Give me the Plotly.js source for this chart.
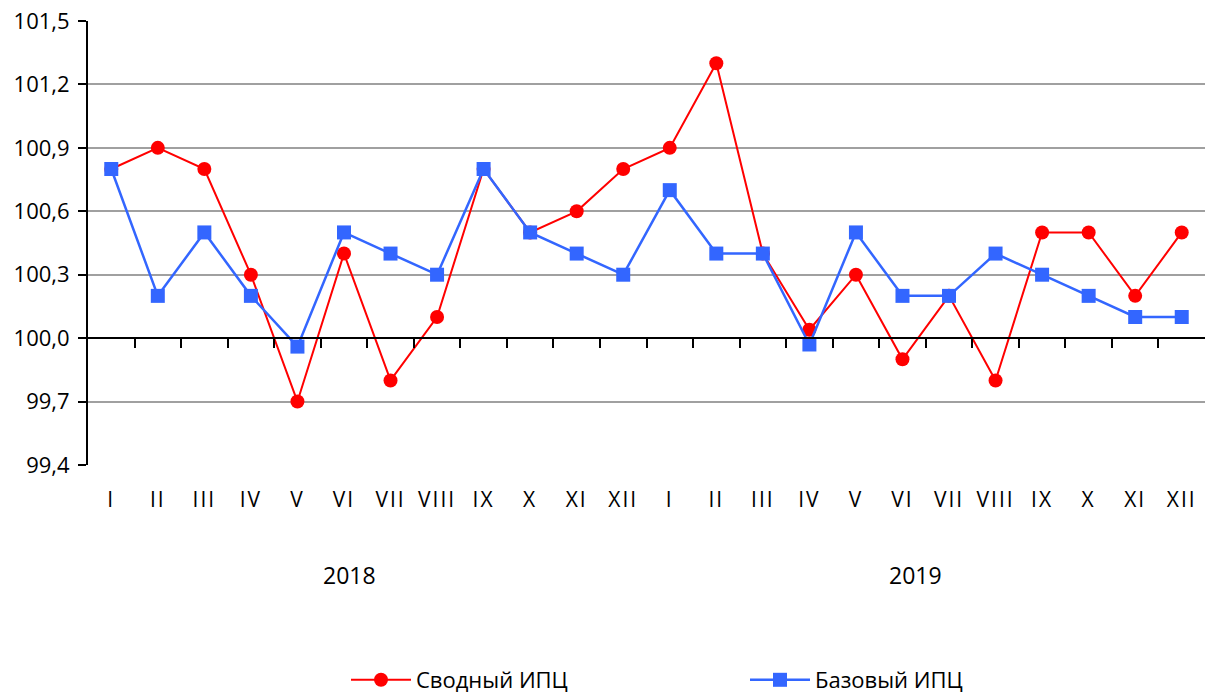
<!DOCTYPE html>
<html>
<head>
<meta charset="utf-8">
<script src="https://cdn.plot.ly/plotly-3.0.1.min.js"></script>
<style>html,body{margin:0;padding:0;background:#fff;}#chart{width:1205px;height:696px;}
.xaxislayer-above .xtick text{letter-spacing:2px;}</style>
</head>
<body>
<div id="chart"></div>
<script>
const months = ['I','II','III','IV','V','VI','VII','VIII','IX','X','XI','XII',
                'I','II','III','IV','V','VI','VII','VIII','IX','X','XI','XII'];
const years = ['2018','2019'];
const cpiTotal = [100.8,100.9,100.8,100.3,99.7,100.4,99.8,100.1,100.8,100.5,100.6,100.8,
                  100.9,101.3,100.4,100.04,100.3,99.9,100.2,99.8,100.5,100.5,100.2,100.5];
const cpiCore  = [100.8,100.2,100.5,100.2,99.96,100.5,100.4,100.3,100.8,100.5,100.4,100.3,
                  100.7,100.4,100.4,99.97,100.5,100.2,100.2,100.4,100.3,100.2,100.1,100.1];
const seriesNames = ['Сводный ИПЦ','Базовый ИПЦ'];

const xIdx = months.map((_, i) => i);
const boundaries = months.slice(1).map((_, i) => i + 0.5);
const yMin = 99.4, yMax = 101.5, baseLine = 100.0;
const FONT = '"Open Sans", "Noto Sans", sans-serif';

const traces = [
  {x: xIdx, y: cpiTotal, name: seriesNames[0], type: 'scatter', mode: 'lines+markers',
   line: {color: '#FF0000', width: 2}, marker: {symbol: 'circle', size: 14, color: '#FF0000'}},
  {x: xIdx, y: cpiCore, name: seriesNames[1], type: 'scatter', mode: 'lines+markers',
   line: {color: '#3366FF', width: 2.5}, marker: {symbol: 'square', size: 14, color: '#3366FF'}},
  {x: [], y: [], xaxis: 'x2', yaxis: 'y', showlegend: false, hoverinfo: 'skip', type: 'scatter'}
];

const plotL = 88, plotR = 1205, plotT = 21, plotB = 465;
const W = plotR - plotL, H = plotB - plotT;
const px = v => (v - plotL) / W;
const py = v => (plotB - v) / H;

const layout = {
  width: 1205, height: 696,
  margin: {l: plotL, r: 1205 - plotR, t: plotT, b: 696 - plotB, pad: 0, autoexpand: false},
  paper_bgcolor: '#fff', plot_bgcolor: '#fff',
  separators: ', ',
  font: {family: FONT, size: 20, color: '#000'},
  showlegend: true,
  legend: {orientation: 'h', x: px(346), xanchor: 'left', y: py(680), yanchor: 'middle',
           itemwidth: 60, entrywidth: 324, entrywidthmode: 'pixels',
           font: {family: FONT, size: 22, color: '#000'}, bgcolor: 'rgba(0,0,0,0)'},
  xaxis: {range: [-0.5, months.length - 0.5], tickvals: xIdx, ticktext: months,
          showgrid: false, zeroline: false, showline: false, ticks: '',
          ticklabelstandoff: 20, tickfont: {family: FONT, size: 21, color: '#000'}, fixedrange: true},
  xaxis2: {overlaying: 'x', anchor: 'free', position: (baseLine - yMin) / (yMax - yMin), side: 'bottom',
           range: [-0.5, months.length - 0.5], tickvals: boundaries, showticklabels: false,
           showgrid: false, zeroline: false, showline: true, linecolor: '#000', linewidth: 2,
           ticks: 'outside', ticklen: 9, tickwidth: 2, tickcolor: '#000'},
  yaxis: {range: [yMin, yMax], tick0: yMin, dtick: 0.3, tickformat: '.1f',
          showgrid: true, gridcolor: '#A0A0A0', gridwidth: 2, zeroline: false,
          showline: true, linecolor: '#000', linewidth: 2,
          ticks: 'outside', ticklen: 8, tickwidth: 2, tickcolor: '#000',
          ticklabelstandoff: 4, tickfont: {family: FONT, size: 22, color: '#000'}},
  annotations: [
    {text: years[0], x: px(349), y: py(575), xref: 'paper', yref: 'paper', showarrow: false,
     xanchor: 'center', yanchor: 'middle', font: {family: FONT, size: 23, color: '#000'}},
    {text: years[1], x: px(915), y: py(575), xref: 'paper', yref: 'paper', showarrow: false,
     xanchor: 'center', yanchor: 'middle', font: {family: FONT, size: 23, color: '#000'}}
  ]
};

Plotly.newPlot('chart', traces, layout, {displayModeBar: false, staticPlot: true});
</script>
</body>
</html>
